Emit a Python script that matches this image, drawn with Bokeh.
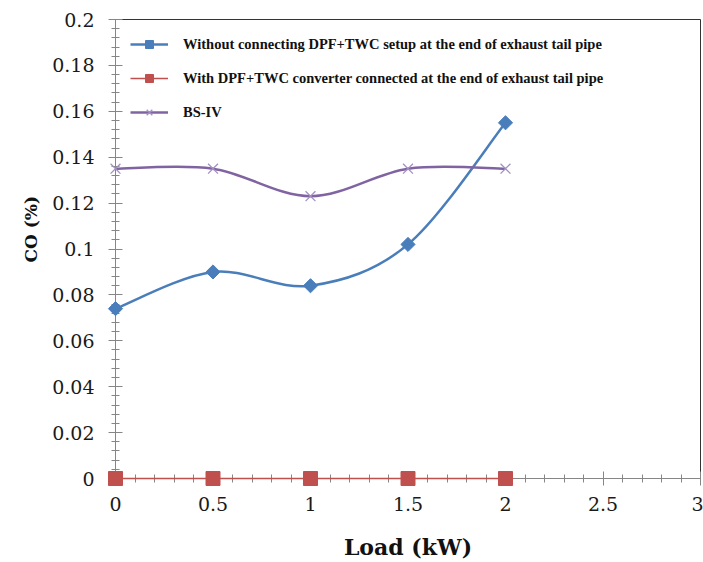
import math
from bokeh.plotting import figure
from bokeh.models import FixedTicker, Legend, LegendItem, Range1d, Title
from bokeh.embed import file_html
from bokeh.resources import INLINE

# ---- data ----
load_kw = [0, 0.5, 1, 1.5, 2]
co_without = [0.074, 0.090, 0.084, 0.102, 0.155]
co_with = [0.0, 0.0, 0.0, 0.0, 0.0]
co_bs4 = [0.135, 0.135, 0.123, 0.135, 0.135]

series_names = [
    "Without connecting DPF+TWC setup at the end of exhaust tail pipe",
    "With DPF+TWC converter connected at the end of exhaust tail pipe",
    "BS-IV",
]

x_ticks = [0, 0.5, 1, 1.5, 2, 2.5, 3]
x_tick_labels = ["0", "0.5", "1", "1.5", "2", "2.5", "3"]
y_ticks = [0, 0.02, 0.04, 0.06, 0.08, 0.1, 0.12, 0.14, 0.16, 0.18, 0.2]
y_tick_labels = ["0", "0.02", "0.04", "0.06", "0.08", "0.1", "0.12", "0.14",
                 "0.16", "0.18", "0.2"]

BLUE = "#4a7ebb"
RED = "#c0504d"
PURPLE = "#8064a2"
PURPLE_LIGHT = "#a38fc4"


def smooth_segments(xs, ys):
    """Cubic Bezier control points (Catmull-Rom style) for a smoothed line."""
    n = len(xs)
    d = dict(x0=[], y0=[], x1=[], y1=[], cx0=[], cy0=[], cx1=[], cy1=[])
    for i in range(n - 1):
        xp, yp = (xs[i - 1], ys[i - 1]) if i > 0 else (xs[i], ys[i])
        xn, yn = (xs[i + 2], ys[i + 2]) if i + 2 < n else (xs[i + 1], ys[i + 1])
        d["x0"].append(xs[i]); d["y0"].append(ys[i])
        d["x1"].append(xs[i + 1]); d["y1"].append(ys[i + 1])
        d["cx0"].append(xs[i] + (xs[i + 1] - xp) / 6.0)
        d["cy0"].append(ys[i] + (ys[i + 1] - yp) / 6.0)
        d["cx1"].append(xs[i + 1] - (xn - xs[i]) / 6.0)
        d["cy1"].append(ys[i + 1] - (yn - ys[i]) / 6.0)
    return d


p = figure(
    width=703, height=562,
    x_range=Range1d(0, 3), y_range=Range1d(0, 0.2),
    output_backend="svg", toolbar_location=None,
    min_border_left=115, min_border_right=3, min_border_top=19, min_border_bottom=84,
    background_fill_color="white", border_fill_color="white",
)
p.xgrid.visible = False
p.ygrid.visible = False
p.outline_line_color = "#333333"
p.outline_line_width = 1

# axes
for ax in (p.xaxis[0], p.yaxis[0]):
    ax.axis_line_color = "#868686"
    ax.axis_line_width = 1
    ax.major_tick_line_color = "#868686"
    ax.minor_tick_line_color = "#868686"
    ax.major_tick_in = 7
    ax.major_tick_out = 7
    ax.minor_tick_in = 4
    ax.minor_tick_out = 4
    ax.major_label_text_font = "DejaVu Serif"
    ax.major_label_text_font_size = "19px"
    ax.major_label_text_color = "#1a1a1a"
    ax.axis_label_text_font = "DejaVu Serif"
    ax.axis_label_text_font_style = "bold"
    ax.axis_label_text_color = "#111111"

p.xaxis.ticker = FixedTicker(ticks=x_ticks, minor_ticks=[i * 0.1 for i in range(31)])
p.xaxis.major_label_overrides = dict(zip(x_ticks, x_tick_labels))
p.xaxis.major_label_standoff = 11
p.xaxis.axis_label = "Load (kW)"
p.xaxis.axis_label_text_font_size = "22px"
p.xaxis.axis_label_standoff = 20

p.yaxis.ticker = FixedTicker(ticks=y_ticks, minor_ticks=[i * 0.004 for i in range(51)])
p.yaxis.major_label_overrides = dict(zip(y_ticks, y_tick_labels))
p.yaxis.major_label_standoff = 14

# y-axis title, placed slightly above the middle as in the reference
p.add_layout(Title(text="CO (%)", align="left", offset=216, standoff=18,
                   text_font="DejaVu Serif", text_font_style="bold",
                   text_font_size="17px", text_color="#111111"), "left")

# series 1: smoothed blue with diamonds
s1 = smooth_segments(load_kw, co_without)
r1_line = p.bezier(x0="x0", y0="y0", x1="x1", y1="y1", cx0="cx0", cy0="cy0",
                   cx1="cx1", cy1="cy1", source=s1, line_color=BLUE, line_width=2.5)
r1_pts = p.scatter(load_kw, co_without, marker="square", angle=math.pi / 4, size=10,
                   fill_color=BLUE, line_color=BLUE, level="overlay")

# series 2: red squares on zero
r2_line = p.line(load_kw, co_with, line_color=RED, line_width=1.5, level="overlay")
r2_pts = p.scatter(load_kw, co_with, marker="square", size=14,
                   fill_color=RED, line_color=RED, level="overlay")

# series 3: smoothed purple with x markers
s3 = smooth_segments(load_kw, co_bs4)
r3_line = p.bezier(x0="x0", y0="y0", x1="x1", y1="y1", cx0="cx0", cy0="cy0",
                   cx1="cx1", cy1="cy1", source=s3, line_color=PURPLE, line_width=2.5)
r3_pts = p.scatter(load_kw, co_bs4, marker="x", size=14, line_color=PURPLE_LIGHT,
                   line_width=1.3, level="overlay")

legend = Legend(
    items=[
        LegendItem(label=series_names[0], renderers=[r1_line, r1_pts]),
        LegendItem(label=series_names[1], renderers=[r2_line, r2_pts]),
        LegendItem(label=series_names[2], renderers=[r3_line, r3_pts]),
    ],
    location="top_left",
    margin=15, padding=8, spacing=14,
    glyph_width=38, glyph_height=20, label_height=20,
    label_standoff=15,
    label_text_font="Liberation Serif", label_text_font_style="bold",
    label_text_font_size="14.5px", label_text_color="#111111",
    border_line_color=None, background_fill_alpha=0,
)
p.add_layout(legend, "center")

open("out.html", "w").write(file_html(p, INLINE))
